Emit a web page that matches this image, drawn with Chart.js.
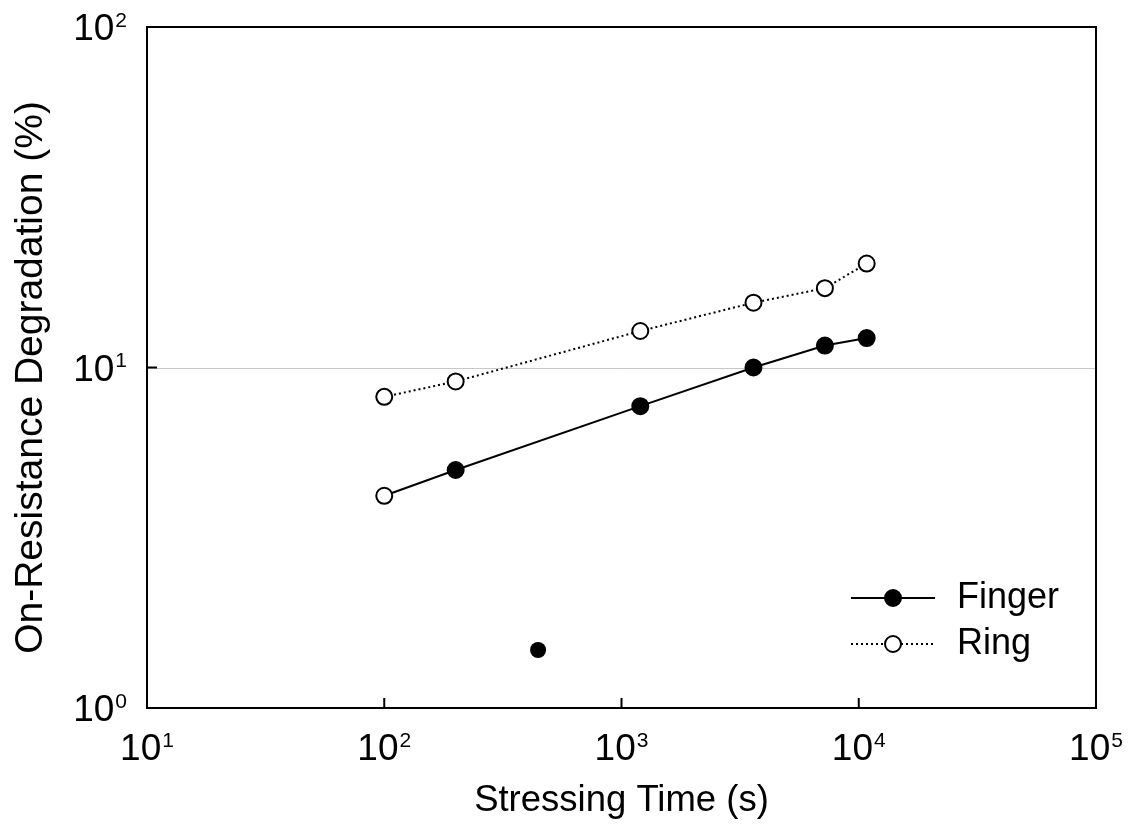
<!DOCTYPE html>
<html>
<head>
<meta charset="utf-8">
<script src="https://cdn.jsdelivr.net/npm/chart.js@4/dist/chart.umd.min.js"></script>
<style>
  body { margin: 0; background: #fff; }
  #wrap { width: 1133px; height: 836px; }
</style>
</head>
<body>
<div id="wrap"><canvas id="myChart"></canvas></div>
<script>
// stress time (s) vs on-resistance degradation (%)
let fingerTime = [100, 200, 1200, 3600, 7200, 10800];
let fingerDeg = [4.2, 5.0, 7.7, 10.0, 11.6, 12.2];
let ringTime = [100, 200, 1200, 3600, 7200, 10800];
let ringDeg = [8.2, 9.1, 12.8, 15.5, 17.1, 20.2];
let strayTime = [445];
let strayDeg = [1.48];
let xTickExp = [1, 2, 3, 4, 5];
let yTickExp = [0, 1, 2];
let gridValues = [10];
let legendNames = ["Finger", "Ring"];

const FONT = "'Liberation Sans', Arial, Helvetica, sans-serif";

function toPoints(xs, ys) {
  return xs.map((x, i) => ({ x: x, y: ys[i] }));
}

// draws "10" with a raised exponent, anchored at (x, y)
function drawPower(ctx, exp, x, y, align) {
  ctx.font = "37px " + FONT;
  let baseW = ctx.measureText("10").width;
  ctx.font = "21px " + FONT;
  let expW = ctx.measureText(String(exp)).width;
  let total = baseW + expW + 1;
  let left = align === "right" ? x - total : x - total / 2;
  ctx.textAlign = "left";
  ctx.textBaseline = "alphabetic";
  ctx.font = "37px " + FONT;
  ctx.fillText("10", left, y + 13);
  ctx.font = "21px " + FONT;
  ctx.fillText(String(exp), left + baseW + 1, y - 0.5);
}

const frame = {
  id: "frame",
  beforeDatasetsDraw(chart) {
    let ctx = chart.ctx;
    let area = chart.chartArea;
    let y = chart.scales.y;
    ctx.save();
    ctx.strokeStyle = "#c8c8c8";
    ctx.lineWidth = 1;
    gridValues.forEach((v) => {
      let py = Math.round(y.getPixelForValue(v)) + 0.5;
      ctx.beginPath();
      ctx.moveTo(area.left, py);
      ctx.lineTo(area.right, py);
      ctx.stroke();
    });
    ctx.restore();
  },
  afterDraw(chart) {
    let ctx = chart.ctx;
    let area = chart.chartArea;
    let x = chart.scales.x;
    let y = chart.scales.y;
    ctx.save();
    ctx.strokeStyle = "#000";
    ctx.lineWidth = 2;
    ctx.strokeRect(area.left, area.top, area.right - area.left, area.bottom - area.top);

    // inward ticks and labels
    ctx.fillStyle = "#000";
    xTickExp.forEach((e) => {
      let px = x.getPixelForValue(Math.pow(10, e));
      ctx.beginPath();
      ctx.moveTo(px, area.bottom);
      ctx.lineTo(px, area.bottom - 10);
      ctx.stroke();
      drawPower(ctx, e, px, area.bottom + 39, "center");
    });
    yTickExp.forEach((e) => {
      let py = y.getPixelForValue(Math.pow(10, e));
      ctx.beginPath();
      ctx.moveTo(area.left, py);
      ctx.lineTo(area.left + 10, py);
      ctx.stroke();
      drawPower(ctx, e, area.left - 20, py, "right");
    });

    // axis titles
    ctx.textAlign = "center";
    ctx.textBaseline = "middle";
    ctx.font = "36.5px " + FONT;
    ctx.fillText("Stressing Time (s)", (area.left + area.right) / 2, 801);
    ctx.translate(31, (area.top + area.bottom) / 2 + 10);
    ctx.rotate(-Math.PI / 2);
    ctx.font = "39px " + FONT;
    ctx.fillText("On-Resistance Degradation (%)", 0, 0);
    ctx.restore();

    // legend
    ctx.save();
    let rows = [
      { y: 598, dash: [], fill: "#000" },
      { y: 644, dash: [2, 3], fill: "#fff" },
    ];
    rows.forEach((r, i) => {
      ctx.strokeStyle = "#000";
      ctx.lineWidth = 2;
      ctx.setLineDash(r.dash);
      ctx.beginPath();
      ctx.moveTo(851, r.y);
      ctx.lineTo(935, r.y);
      ctx.stroke();
      ctx.setLineDash([]);
      ctx.beginPath();
      ctx.arc(893, r.y, 8, 0, Math.PI * 2);
      ctx.fillStyle = r.fill;
      ctx.fill();
      ctx.stroke();
      ctx.fillStyle = "#000";
      ctx.font = "36px " + FONT;
      ctx.textAlign = "left";
      ctx.textBaseline = "middle";
      ctx.fillText(legendNames[i], 957, r.y);
    });
    ctx.restore();
  },
};

function getChart() {
  var ctx = document.getElementById("myChart").getContext("2d");
  var chart = new Chart(ctx, {
    type: "scatter",
    data: {
      datasets: [
        {
          label: "Finger",
          data: toPoints(fingerTime, fingerDeg),
          showLine: true,
          borderColor: "#000",
          borderWidth: 2,
          pointRadius: 8,
          pointBorderWidth: 2,
          pointBorderColor: "#000",
          pointBackgroundColor: fingerTime.map((t, i) => (i === 0 ? "#fff" : "#000")),
        },
        {
          label: "Ring",
          data: toPoints(ringTime, ringDeg),
          showLine: true,
          borderColor: "#000",
          borderWidth: 2,
          borderDash: [2, 3],
          pointRadius: 8,
          pointBorderWidth: 2,
          pointBorderColor: "#000",
          pointBackgroundColor: "#fff",
        },
        {
          label: "Finger (stray)",
          data: toPoints(strayTime, strayDeg),
          showLine: false,
          pointRadius: 8,
          pointBorderWidth: 0,
          pointBackgroundColor: "#000",
        },
      ],
    },
    options: {
      responsive: true,
      maintainAspectRatio: false,
      animation: false,
      layout: { padding: { left: 147, right: 37, top: 27, bottom: 128 } },
      plugins: { legend: { display: false }, tooltip: { enabled: false } },
      scales: {
        x: { type: "logarithmic", min: 10, max: 100000, display: false },
        y: { type: "logarithmic", min: 1, max: 100, display: false },
      },
    },
    plugins: [frame],
  });
}

getChart();
</script>
</body>
</html>
